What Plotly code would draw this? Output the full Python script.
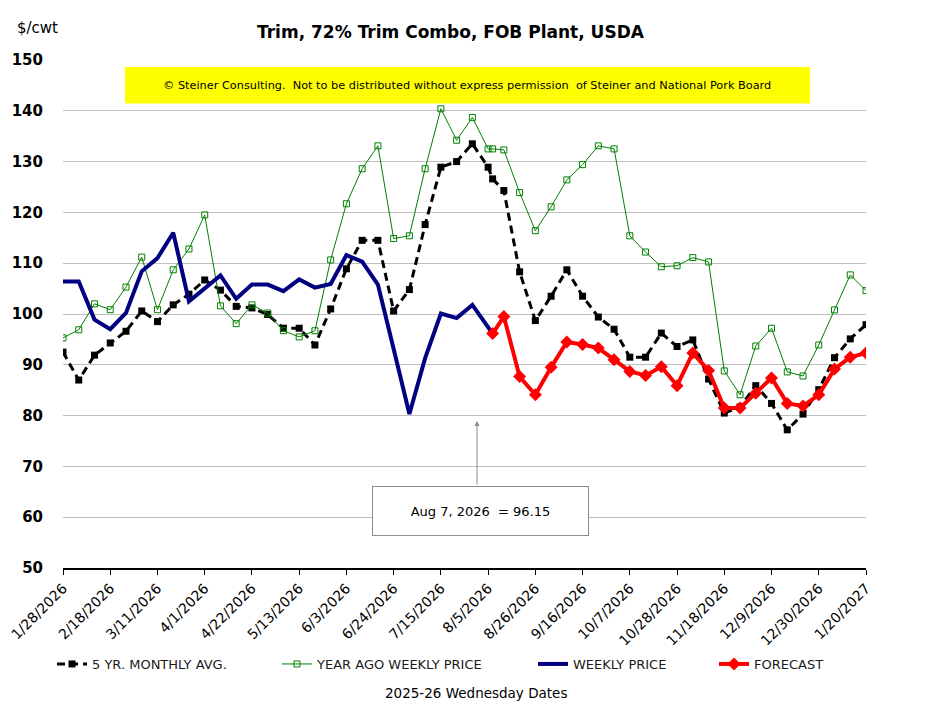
import pandas as pd
import plotly.graph_objects as go

# ---- data ----
weeks = list(pd.date_range("2026-01-28", "2027-01-20", freq="7D"))
dates = weeks[:28] + [pd.Timestamp("2026-08-07")] + weeks[28:]

five_yr_avg = [92.5, 87.0, 91.9, 94.3, 96.6, 100.6, 98.5, 101.8, 103.9, 106.7,
               104.7, 101.5, 101.2, 99.9, 97.2, 97.2, 93.9, 101.0, 108.9, 114.5,
               114.5, 100.6, 104.8, 117.6, 128.9, 130.0, 133.5, 128.9, 126.6, 124.3,
               108.3, 98.7, 103.5, 108.7, 103.5, 99.4, 97.0, 91.5, 91.5, 96.25,
               93.6, 94.9, 87.2, 80.5, 81.7, 85.9, 82.4, 77.2, 80.3, 85.1,
               91.4, 95.1, 97.9]

year_ago = [95.3, 96.9, 102.0, 100.85, 105.3, 111.2, 100.85, 108.7, 112.8, 119.5,
            101.6, 98.1, 101.8, 100.2, 96.7, 95.5, 96.7, 110.65, 121.7, 128.6,
            133.1, 114.85, 115.4, 128.6, 140.4, 134.2, 138.7, 132.5, 132.5, 132.3,
            123.9, 116.4, 121.1, 126.4, 129.4, 133.1, 132.5, 115.4, 112.2, 109.3,
            109.5, 111.1, 110.25, 88.8, 84.1, 93.7, 97.2, 88.6, 87.8, 93.9,
            100.8, 107.7, 104.6]

weekly_price = [106.4, 106.4, 98.9, 97.0, 100.2, 108.4, 111.0, 116.0, 102.5, 105.1,
                107.6, 103.0, 105.8, 105.8, 104.5, 106.8, 105.2, 105.9, 111.6, 110.3,
                105.8, 93.1, 80.3, 91.3, 100.1, 99.2, 101.8, None, 96.15] + [None] * 24

forecast = [None] * 28 + [96.15, 99.5, 87.7, 84.1, 89.5, 94.5, 94.0, 93.3, 91.0, 88.7,
                          87.9, 89.6, 85.9, 92.3, 88.9, 81.5, 81.5, 84.4, 87.4, 82.4,
                          81.9, 84.1, 89.15, 91.5, 92.3]

tick_dates = weeks[::3]
tick_text = [f"{d.month}/{d.day}/{d.year}" for d in tick_dates]
y_ticks = list(range(50, 151, 10))

FONT = "DejaVu Sans"

fig = go.Figure()
fig.add_trace(go.Scatter(
    x=dates, y=five_yr_avg, name="5 YR. MONTHLY AVG.", mode="lines+markers",
    line=dict(color="black", width=3, dash="8px,5px"),
    marker=dict(symbol="square", size=7, color="black"), legend="legend"))
fig.add_trace(go.Scatter(
    x=dates, y=year_ago, name="YEAR AGO WEEKLY PRICE", mode="lines+markers",
    line=dict(color="#008000", width=1),
    marker=dict(symbol="square-open", size=6, color="#008000", line=dict(width=1)),
    legend="legend2"))
fig.add_trace(go.Scatter(
    x=dates, y=weekly_price, name="WEEKLY PRICE", mode="lines", connectgaps=True,
    line=dict(color="#000080", width=4), legend="legend3"))
fig.add_trace(go.Scatter(
    x=dates, y=forecast, name="FORECAST", mode="lines+markers",
    line=dict(color="#FF0000", width=4),
    marker=dict(symbol="diamond", size=10, color="#FF0000"), legend="legend4"))

# page is rendered with an 8px body margin
OFF = 8
W, H = 944 - OFF, 715 - OFF
L, R, T, B = 63 - OFF, 866 - OFF, 60 - OFF, 568 - OFF
pw, ph = R - L, B - T


def px(x):  # screen x -> paper
    return (x - OFF - L) / pw


def py(y):  # screen y -> paper
    return (B - (y - OFF)) / ph


leg_common = dict(orientation="h", yanchor="middle", y=py(664), xanchor="left",
                  font=dict(family=FONT, size=13, color="#1a1a1a"),
                  bgcolor="rgba(0,0,0,0)", itemwidth=30)

fig.update_layout(
    width=W, height=H, showlegend=True,
    margin=dict(l=L, r=W - R, t=T, b=H - B, autoexpand=False),
    paper_bgcolor="white", plot_bgcolor="white",
    font=dict(family=FONT, color="black"),
    legend=dict(leg_common, x=px(52)),
    legend2=dict(leg_common, x=px(277)),
    legend3=dict(leg_common, x=px(533)),
    legend4=dict(leg_common, x=px(714)),
    xaxis=dict(
        type="date", range=[weeks[0], weeks[-1]],
        tickmode="array", tickvals=tick_dates, ticktext=tick_text,
        tickangle=-45, tickfont=dict(family=FONT, size=14, color="black"),
        ticklabeloverflow="allow",
        showgrid=False, showline=True, linecolor="black", linewidth=1.5,
        ticks="outside", ticklen=5, tickcolor="black", zeroline=False),
    yaxis=dict(
        range=[50, 150], tickmode="array", tickvals=y_ticks,
        tickfont=dict(family=FONT, size=15, color="black", weight="bold"),
        showgrid=True, gridcolor="#BFBFBF", gridwidth=1,
        showline=False, ticks="", zeroline=False, ticklabelstandoff=19),
)


def note(x, y, text, size, **kw):
    fig.add_annotation(xref="paper", yref="paper", x=px(x), y=py(y), text=text,
                       showarrow=False, xanchor="center", yanchor="middle",
                       font=dict(family=FONT, size=size, color="black"), **kw)


# yellow copyright banner
fig.add_shape(type="rect", xref="paper", yref="paper",
              x0=px(125), x1=px(810), y0=py(103.5), y1=py(67),
              fillcolor="#FFFF00", line=dict(width=0), layer="above")
note(467, 85.5, "© Steiner Consulting.  Not to be distributed without express permission  of Steiner and National Pork Board", 11.3)

# title and unit
note(451, 32, "<b>Trim, 72% Trim Combo, FOB Plant, USDA</b>", 17)
note(37, 28, "$/cwt", 15)

# x-axis title
note(476, 693, "2025-26 Wednesday Dates", 13.5)

# callout box with arrow
fig.add_annotation(xref="paper", yref="paper", x=px(477), y=py(421),
                   ax=0, ay=65, text="", showarrow=True, arrowhead=2,
                   arrowsize=1, arrowwidth=1, arrowcolor="#8c8c8c")
note(480.5, 511, "Aug 7, 2026  = 96.15", 13,
     width=213, height=46, bordercolor="#8c8c8c", borderwidth=1, bgcolor="white")

fig.write_html("out.html")
